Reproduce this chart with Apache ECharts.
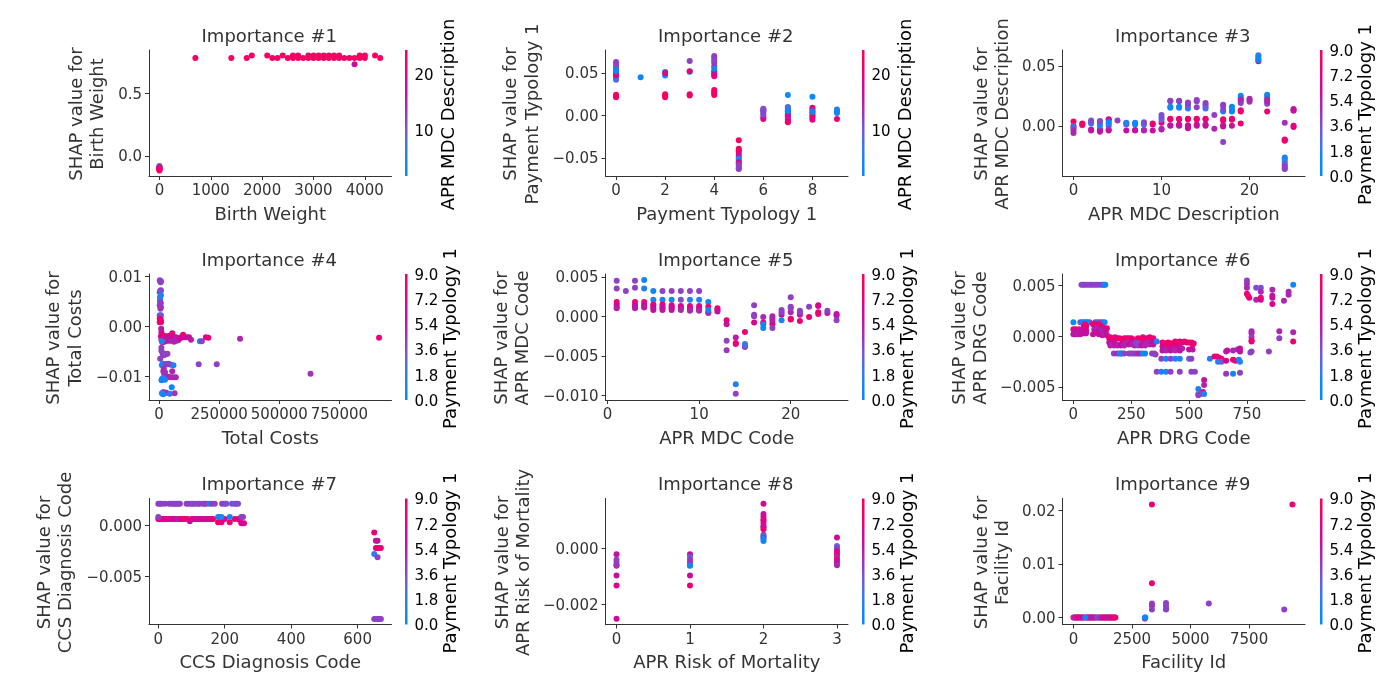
<!DOCTYPE html>
<html><head><meta charset="utf-8">
<script src="https://cdn.jsdelivr.net/npm/echarts@6/dist/echarts.min.js"></script>
<style>html,body{margin:0;padding:0;background:#fff}#c{width:1400px;height:700px}</style></head>
<body><div id="c"></div>
<script>
// Each point: [feature value, SHAP value, colour feature value]
const birthWeight = [[0,-.08,9],[0,-.085,12],[0,-.09,14],[0,-.095,20],[0,-.1,17],[0,-.105,23],[0,-.11,24],[0,-.115,23],
[700,.78,23],[1400,.78,23],[1700,.78,23],[1800,.8,23],[2100,.8,23],[2200,.78,23],[2300,.78,23],[2400,.8,23],[2500,.78,23],[2600,.78,23],[2600,.8,23],[2700,.78,23],[2700,.8,23],[2800,.78,23],[2900,.78,23],[2900,.8,23],[3000,.78,23],[3000,.8,23],[3100,.78,23],[3100,.8,23],[3200,.78,23],[3200,.8,23],[3300,.78,23],[3300,.8,23],[3400,.78,23],[3400,.8,23],[3500,.78,23],[3500,.8,23],[3600,.78,23],[3700,.78,23],[3800,.78,23],[3800,.73,17],[3900,.8,23],[3900,.78,23],[4000,.8,23],[4000,.78,23],[4200,.8,23],[4300,.78,23]];
const paymentTypology = [[0,.0215,23],[0,.023,23],[0,.0245,23],[0,.042,8],[0,.044,6],[0,.047,18],[0,.05,20],[0,.048,21],[0,.054,12],[0,.057,12],[0,.06,11],[0,.063,12],[0,.052,3],[0,.0535,3],
[1,.045,3],[2,.0215,23],[2,.023,23],[2,.025,23],[2,.047,3],[2,.051,3],[2,.05,21],[3,.0235,23],[3,.025,23],[3,.0515,3],[3,.052,21],[3,.064,12],
[4,.024,23],[4,.026,23],[4,.028,23],[4,.03,23],[4,.046,21],[4,.048,21],[4,.05,21],[4,.052,17],[4,.058,12],[4,.062,13],[4,.065,11],[4,.068,11],[4,.07,12],[4,.055,3],
[5,-.029,23],[5,-.039,23],[5,-.041,23],[5,-.043,23],[5,-.046,19],[5,-.049,16],[5,-.051,4],[5,-.053,4],[5,-.056,5],[5,-.055,18],[5,-.058,12],[5,-.06,12],[5,-.062,11],[5,-.063,12],
[6,-.004,21],[6,-.002,19],[6,.001,11],[6,.003,11],[6,.005,11],[6,.006,11],[6,.007,11],[6,.008,11],
[7,.024,3],[7,-.008,23],[7,-.007,23],[7,-.005,22],[7,-.003,19],[7,-.001,20],[7,0,14],[7,.002,17],[7,.004,21],[7,.007,7],[7,.009,5],[7,.01,8],[7,.006,4],[7,.005,3],
[8,.022,3],[8,-.005,21],[8,-.002,19],[8,0,20],[8,.002,23],[8,.007,20],[8,.009,22],[8,.005,4],[8,.004,3],
[9,-.004,22],[9,.007,5],[9,.005,4],[9,.003,3]];
const aprMdcDescription = [[0,.0035,8.5],[0,0,4],[0,-.001,2.5],[0,-.002,3],[0,-.004,5],[0,-.006,5],[1,.0005,3],[1,.001,8],[1,.002,8.5],
[2,-.004,5.5],[2,-.003,6],[2,.002,1],[2,.003,3],[2,.0045,3.5],[3,-.005,5],[3,-.004,6],[3,-.003,6],[3,0,1],[3,.002,1],[3,.0035,4],[3,.004,3.5],
[4,-.004,6],[4,-.003,6],[4,0,4],[4,.005,6],[4,.0055,7],[4,.002,1],[4,.003,.5],[5,.0045,4],[6,-.004,6],[6,.001,3],[6,.002,3],[6,.0025,1.5],
[7,-.004,6],[7,-.0035,6],[7,.001,.5],[7,.002,1],[7,.0025,.5],[8,-.004,6],[8,-.0035,5],[8,.001,3],[8,.002,1.5],[8,.003,3.5],[9,-.004,6],[9,.001,7],[9,.002,8],
[10,-.003,6],[10,-.0025,5],[10,.0025,8],[10,.005,3],[10,.007,3],[10,.009,3.5],
[11,0,6],[11,.0005,6],[11,.0055,8],[11,.006,8],[11,.015,1],[11,.016,.5],[11,.0205,4],[11,.021,4],
[12,0,6],[12,.0005,6],[12,.001,6],[12,.0055,8],[12,.006,8],[12,.015,1],[12,.016,.5],[12,.0205,4],[12,.021,4],
[13,-.002,6],[13,-.0005,6],[13,.0005,6],[13,.0055,8],[13,.006,8],[13,.0145,1],[13,.017,3],[13,.0185,4],[13,.0195,4],
[14,0,6],[14,.001,6],[14,.0055,8],[14,.006,8],[14,.0155,4],[14,.0205,4],[14,.0215,4],
[15,0,6],[15,.001,6],[15,.0055,8],[15,.006,8],[15,.0145,1],[15,.016,3],[15,.0175,3],[15,.019,4],[16,-.0025,5],[16,.009,4],
[17,-.0135,4],[17,-.0005,6],[17,.0005,6],[17,.0045,8],[17,.0055,8],[17,.012,1],[17,.0135,3.5],[17,.0165,4],[17,.0175,4],
[18,0,6],[18,.005,8],[18,.006,8],[18,.012,.5],[18,.0135,.5],[18,.016,.5],
[19,.002,8],[19,.012,8],[19,.013,8],[19,.023,1],[19,.025,.5],[19,.019,4],[19,.021,4],[19,.022,5],[20,.02,4],[20,.0215,5],[20,.0225,5],
[21,.054,8],[21,.059,2],[21,.0575,1],[21,.056,.5],[21,.055,.5],[22,.012,8],[22,.024,1],[22,.026,.5],[22,.0185,4],[22,.0205,5],[22,.022,5],
[24,.0025,4.5],[24,-.012,8],[24,-.0115,8],[24,-.0125,8],[24,-.0265,1],[24,-.028,1],[24,-.03,1.5],[24,-.032,3],[24,-.0335,4],[24,-.035,4],[24,-.036,4],
[25,-.001,8],[25,0,7.5],[25,.0125,5],[25,.014,5],[25,.0135,6]];
const totalCosts = [[3000,.0092,3.5],[7000,.0088,4.5],[5000,.009,3.5],[8000,.009,4],[8000,.0072,3.5],[3000,.0068,4],[5000,.0071,4],[6000,.007,3.5],[8000,.0062,1],[4000,.0058,1],[5000,.0055,1.5],[4000,.005,2.5],[7000,.0047,4.5],[6000,.0045,4],[3000,.0042,4],[5000,.004,4],[8000,.0038,4.5],[6000,.0035,4.5],[3000,.0022,2],[8000,.0022,3],[4000,.002,2],[5000,.0018,4],[6000,.0015,4],[3000,.0015,8],[7000,.0012,8],[4000,.0012,8],[7000,.001,7.5],[3000,.0008,8],[8000,.0008,8],[9000,-.0005,5.5],
[10000,-.0012,6],[8000,-.002,6],[10000,-.0027,5],[12000,-.0018,8],[15000,-.0022,7],[15000,-.0028,5],[14000,-.0032,5],[20000,-.0025,5],[20000,-.0019,8],[22000,-.0031,6],[25000,-.0027,6],[28000,-.0022,7],[30000,-.002,8],[33000,-.0029,6],[35000,-.0027,5],[35000,-.0021,6],[40000,-.0025,5],[42000,-.0029,6],[45000,-.0027,6],[45000,-.0019,7],[50000,-.0023,6],[52000,-.0029,5],[55000,-.0014,8],[58000,-.0027,5],[60000,-.0021,7],[62000,-.0031,5],[65000,-.0027,5],[70000,-.0022,6],[72000,-.0029,5],[75000,-.0025,5],[80000,-.0028,5],[84000,-.0024,6],[88000,-.0024,6],[92000,-.0022,7],[100000,-.0017,8],[105000,-.0022,7],[115000,-.0022,6],[125000,-.0022,6.5],[133000,-.0027,5.5],[170000,-.003,1],[178000,-.003,4],[195000,-.0022,7],[205000,-.0023,8],[337000,-.0025,5],[915000,-.0023,8],
[12000,-.003,1],[10000,-.0043,4],[10000,-.0049,4],[15000,-.0055,4],[20000,-.0058,4],[25000,-.0055,4],[30000,-.0056,4],[35000,-.0055,4],[5000,-.0065,4],[15000,-.0075,1],[20000,-.0078,1],[12000,-.0078,1],[18000,-.0076,.5],[22000,-.0076,1],[28000,-.0076,4],[35000,-.0076,4.5],[40000,-.0075,4],[50000,-.0077,4],[60000,-.0078,1],[165000,-.0076,4],[240000,-.0076,4],[630000,-.0095,4.5],[20000,-.0085,4.5],[18000,-.009,5],[22000,-.0095,5.5],[25000,-.0092,4.5],[55000,-.009,5],[20000,-.0103,4],[30000,-.0102,5],[36000,-.0102,5],[40000,-.0101,5],[50000,-.0102,5],[60000,-.0102,5],[70000,-.0102,5],[10000,-.0108,1],[15000,-.0107,.5],[13000,-.0105,.5],[18000,-.0104,1],[25000,-.0107,1],[53000,-.0122,.5],[20000,-.0132,4.5],[17000,-.0132,4],[30000,-.0133,5],[15000,-.0135,1],[12000,-.0134,1],[18000,-.0136,.5],[45000,-.0135,1],[65000,-.0134,4.5]];
const aprMdcCode = [[1,.0045,4],[1,.0035,4],[1,.0018,8],[1,.0015,7.5],[1,.0012,6],[1,.001,5.5],[2,.0032,4],[3,.0045,4],[3,.0036,4],[3,.0018,8],[3,.0014,7],[3,.0012,6],[3,.001,5.5],[4,.0046,.5],[4,.0035,1],[4,.0018,8],[4,.0015,7],[4,.0012,6],[4,.0011,5.5],
[5,.0032,.5],[5,.0021,1],[5,.0015,8],[5,.0013,7],[5,.001,6],[5,.0008,6],[6,.0032,4],[6,.0021,1],[6,.0015,8],[6,.0012,7],[6,.001,6],[6,.0008,6],[7,.0032,4],[7,.0021,.5],[7,.0014,8],[7,.0012,7],[7,.001,6],[7,.0008,6],[8,.0032,4],[8,.0021,3.5],[8,.0013,8],[8,.0012,7],[8,.001,6],[8,.0008,5],[9,.0032,4],[9,.0021,1],[9,.0013,8],[9,.001,7],[9,.0008,6],[9,.0007,5],[10,.0032,4],[10,.0021,1],[10,.0013,8],[10,.001,7],[10,.0008,6],[10,.0007,5],
[11,.0018,.5],[11,.0012,8],[11,.0005,6],[11,.0004,5],[11,.0008,.5],[12,.001,8],[12,.0008,7.5],[12,.0006,6],[13,-.0005,8],[13,-.001,6],[13,-.0031,4],[13,-.0043,4.5],[14,-.0027,5.5],[14,-.0034,8],[14,-.0035,8],[14,-.0086,1],[14,-.0098,4],[15,-.002,8],[15,-.0039,4],[15,-.0038,3.5],[15,-.0035,2],
[16,.0014,4],[16,.0002,4],[16,0,4],[16,-.0008,7],[17,-.0008,8],[17,-.001,1],[17,-.0015,.5],[17,-.0001,5],[18,-.001,8],[18,-.0015,4],[18,-.0006,6],[18,-.0003,5],[18,0,5],[19,.0002,6],[19,.0005,4],[19,.0008,4],[19,-.0005,1],[20,-.0003,8],[20,-.0004,8],[20,.0005,5],[20,.001,4],[20,.0012,4],[20,.0024,4],[21,-.0006,8],[21,.0002,6],[21,.0005,4],[21,.0007,4],[22,-.0001,8],[22,.0012,4],[23,.0013,6],[23,.0014,7],[23,.0005,8],[23,.0003,8],[24,.0004,6],[24,.0007,4],[25,.0003,6],[25,.0001,6],[25,-.0005,4]];
const aprDrgCode = [[35,.0051,4],[42,.0051,3.5],[50,.0051,4],[60,.0051,4],[70,.0051,4],[78,.0051,4],[88,.0051,4],[98,.0051,4],[108,.0051,4],[120,.0051,4],[128,.0051,4],[133,.0051,.5],[138,.0051,.5],
[30,.0014,3.5],[70,.0014,4],[0,.0014,.5],[40,.0014,.5],[45,.0014,.5],[55,.0014,1],[60,.0014,.5],[95,.0014,4],[105,.0014,1.5],[115,.0014,4],[125,.0014,4],[135,.0014,1],
[0,.0007,8],[10,.0007,8],[25,.0007,7],[45,.001,8],[50,.0012,8],[55,.001,8],[85,.0012,8],[95,.0012,8],[105,.0012,8],[115,.0011,8],[125,.0009,7],[135,.0008,8],[145,.0008,8],[90,.0007,5],[100,.0008,5],[110,.0006,5],
[0,.0002,6],[5,.0005,6],[5,.0002,5],[10,.0002,6],[15,.0004,6],[20,.0002,5],[25,.0004,5],[30,.0002,6],[35,.0005,6],[40,.0003,6],[45,.0005,6],[50,.0003,6],[55,.0006,7],[55,.0003,6],[85,.0002,6],[95,.0004,6],[105,.0004,6],[110,.0002,6],[115,.0003,6],[125,.0001,6],[130,.0005,5],[135,.0002,5],[140,.0005,6],[145,.0001,6],
[155,-.0002,8],[160,-.0001,8],[170,-.0003,8],[180,-.0001,8],[190,-.0002,8],[200,-.0002,8],[210,-.0003,8],[220,-.0002,8],[230,-.0002,8],[240,-.0002,8],[250,-.0002,8],[260,-.0003,8],[270,-.0003,8],[280,-.0002,8],[290,-.0003,8],[300,-.0001,8],[305,-.0002,8],[315,-.0003,8],[320,-.0002,8],[330,-.0001,8],[335,-.0003,8],[345,-.0002,8],
[155,-.0006,6],[160,-.0009,6],[165,-.0008,5],[175,-.0009,5],[180,-.0007,6],[190,-.0009,6],[195,-.0008,5],[205,-.0009,6],[210,-.0008,6],[220,-.0009,5],[225,-.0007,5],[235,-.0006,5],[240,-.0008,6],[250,-.0006,6],[255,-.0008,5],[265,-.0009,5],[270,-.0006,4],[280,-.0009,4],[285,-.0007,3.5],[295,-.0009,6],[300,-.0007,6],[310,-.0009,5],[315,-.0007,5],[325,-.0006,5],[330,-.0008,5],[340,-.0006,6],[345,-.0008,6],[360,-.0005,1],
[175,-.0017,4],[190,-.0017,5],[200,-.0017,1],[205,-.0017,1],[210,-.0017,1],[220,-.0017,4],[240,-.0017,4],[250,-.0017,4],[260,-.0017,4],[270,-.0017,4],[280,-.0017,5],[290,-.0017,5],[300,-.0017,1],[310,-.0017,.5],[340,-.0017,4],[350,-.0017,4],[355,-.0018,4],
[385,-.001,6],[390,-.0009,6],[400,-.0012,5],[410,-.0011,6],[420,-.001,6],[430,-.0012,6],[440,-.0012,5],[450,-.001,6],[460,-.0011,6],[470,-.0012,5],
[385,-.0006,8],[395,-.0007,8],[400,-.0007,8],[410,-.0006,8],[420,-.0007,8],[430,-.0007,8],[440,-.0005,8],[450,-.0006,8],[460,-.0005,8],[470,-.0006,8],[480,-.0005,8],[490,-.0006,8],[500,-.0006,8],[510,-.0006,8],[515,-.0008,8],[520,-.0007,8],
[385,-.0014,6],[400,-.0014,5],[420,-.0014,6],[440,-.0014,5],[460,-.0014,6],[500,-.0013,6],[515,-.0013,6],
[380,-.0022,4],[400,-.0022,1],[420,-.0022,4],[440,-.0022,1],[460,-.0022,1],[500,-.0022,3],[510,-.0022,4],
[360,-.0035,4],[380,-.0035,1],[400,-.0035,1],[420,-.0035,4],[460,-.0035,4],[510,-.0035,4],[525,-.0035,4],
[565,-.0043,6],[565,-.0048,5],[540,-.0052,1],[560,-.0055,8],[540,-.0057,1],[550,-.0057,4],[540,-.0058,4],[565,-.0057,1],
[590,-.0022,1],[610,-.002,8],[620,-.002,8],[630,-.0021,8],[640,-.0022,8],[625,-.0025,1],[640,-.0025,3],[660,-.0024,7],[660,-.0015,5],[665,-.0014,6],[690,-.0014,5],[710,-.0013,5],[720,-.0012,6],[720,-.0015,6],[690,-.0023,8],[700,-.0024,8],[715,-.0023,1],[720,-.0025,1],[660,-.0037,4.5],[690,-.0037,.5],[720,-.0036,4],
[750,.0055,4],[750,.0052,4.5],[750,.0048,5],[750,.0042,8],[755,.004,8],[760,.0038,8],[790,.0036,5],[790,.0048,3.5],[810,.0048,3.5],[810,.0044,5],[810,.0036,6],[810,.0038,8],[860,.0046,5],[860,.004,6],[860,.0038,6],[860,.0032,7],[910,.0035,5],[930,.0044,5],[930,.0041,5],[950,.0051,.5],
[770,.0005,5],[770,.0003,5],[770,-.0001,4],[770,-.0004,8],[770,-.0005,8],[770,-.0015,4],[765,-.0016,4],[845,-.0015,4],[890,.0005,5],[890,-.0002,4],[950,.0004,5],[950,-.0005,8]];
const ccsDiagnosisCode = [[0,.0021,4],[5,.0021,4],[10,.0021,4],[20,.0021,4],[32,.0021,4],[40,.0021,4],[45,.0021,4],[50,.0021,3.5],[55,.0021,4],[60,.0021,4],[65,.0021,4],[85,.0021,4],[92,.0021,4],[100,.0021,4],[105,.0021,3.5],[112,.0021,4],[120,.0021,3.5],[125,.0021,4],[135,.0021,4],[140,.0021,4],[145,.0021,4],[155,.0021,.5],[162,.0021,4],[170,.0021,4],[192,.0021,4],[200,.0021,4],[205,.0021,3.5],[222,.0021,4],[230,.0021,2],[235,.0021,4],[240,.0021,3.5],
[0,.0006,7],[5,.0006,8],[10,.0006,8],[15,.0006,7],[20,.0006,8],[25,.0006,7],[30,.0006,7],[35,.0006,8],[40,.0006,6],[45,.0006,6],[50,.0006,7],[55,.0006,6],[60,.0006,5],[65,.0006,6],[70,.0006,8],[75,.0006,7],[80,.0006,8],[88,.0006,8],[95,.0004,6],[100,.0006,7],[105,.0006,8],[110,.0006,7],[115,.0006,6],[120,.0006,6],[125,.0006,6],[130,.0006,7],[135,.0006,7],[140,.0006,6],[145,.0006,6],[150,.0006,7],[155,.0006,7],[160,.0006,6],[165,.0006,8],[180,.0003,8],[190,.0003,8],[200,.0006,7],[215,.0003,8],[230,.0006,8],[240,.0006,8],[245,.0005,7],[250,.0002,7],[258,.0002,7],
[0,.0008,4],[180,.0008,1],[185,.0008,.5],[190,.0008,1.5],[215,.0008,.5],[250,.0008,4],[255,.0008,4],
[650,-.0007,8],[655,-.0015,6],[660,-.0015,6],[650,-.0028,1.5],[660,-.0031,4],[655,-.0022,8],[660,-.0022,8],[665,-.0022,8],[670,-.0022,8],[650,-.0091,4],[655,-.0091,4],[660,-.0091,4],[665,-.0091,4],[670,-.0091,4]];
const aprRiskMortality = [[0,-.0002,6],[0,-.0004,4],[0,-.0005,4],[0,-.0006,4],[0,-.00062,4.5],[0,-.00097,6],[0,-.00133,7.5],[0,-.00253,6.5],
[1,-.0002,6],[1,-.0003,3],[1,-.0004,4],[1,-.0005,4.5],[1,-.0006,4],[1,-.00062,.5],[1,-.00097,6],[1,-.00133,8],
[2,.00162,6.5],[2,.00125,6],[2,.00115,6],[2,.00105,7],[2,.001,8],[2,.0009,7],[2,.0008,5],[2,.00078,6],[2,.0007,8],[2,.0005,4],[2,.00045,1],[2,.0004,4.5],[2,.00035,.5],[2,.00028,.5],
[3,.0004,6.5],[3,.0001,3],[3,0,4],[3,-.0001,7],[3,-.0002,8],[3,-.0003,5],[3,-.0004,8],[3,-.0005,6],[3,-.0006,5]];
const facilityId = [[0,0,8],[30,0,4],[60,0,7],[100,0,.5],[130,0,6],[160,0,5],[200,0,8],[240,0,6],[280,0,8],[320,0,7],[360,0,5],[400,0,8],[440,0,7],[540,0,6],[580,0,8],[620,0,5],[660,0,7],[700,0,6],[740,0,5],[780,0,7],[820,0,6],[860,0,5],[900,0,6],[950,0,7],[1000,0,4],[1040,0,4],[1080,0,4],[1120,0,4],[1160,0,4],[1200,0,6],[1240,0,5],[1280,0,6],[1320,0,7],[1360,0,8],[1400,0,6],[1440,0,8],[1480,0,7],[1520,0,5],[1560,0,8],[1600,0,6],[1640,0,8],[1680,0,7],[1720,0,8],[1760,0,8],[1790,0,8],[500,0,.5],
[3050,-.0002,8],[3050,0,.5],[3070,0,.5],[3350,.0211,8],[9350,.0211,8],[3350,.0064,8],[3350,.0026,4],[3350,.0022,4.5],[3350,.0015,4],[3950,.0027,4],[3950,.0022,4],[3950,.0015,4],[3960,.0016,4],[5780,.0026,4],[9000,.0015,4]];

const titles = ['Importance #1','Importance #2','Importance #3','Importance #4','Importance #5','Importance #6','Importance #7','Importance #8','Importance #9'];
const features = ['Birth Weight','Payment Typology 1','APR MDC Description','Total Costs','APR MDC Code','APR DRG Code','CCS Diagnosis Code','APR Risk of Mortality','Facility Id'];
const colorFeatures = ['APR MDC Description','APR MDC Description','Payment Typology 1','Payment Typology 1','Payment Typology 1','Payment Typology 1','Payment Typology 1','Payment Typology 1','Payment Typology 1'];
const panelData = [birthWeight,paymentTypology,aprMdcDescription,totalCosts,aprMdcCode,aprDrgCode,ccsDiagnosisCode,aprRiskMortality,facilityId];
const xRanges = [[-203,4520],[-.43,9.45],[-1.25,26.3],[-41600,966700],[-.22,26.25],[-47,1001],[-28,702],[-.15,3.15],[-468,9886]];
const yRanges = [[-.159,.844],[-.0711,.077],[-.0419,.0633],[-.01473,.01047],[-.0106,.00535],[-.00628,.00615],[-.00964,.0026],[-.002735,.00181],[-.0013,.0222]];
const xTicks = [[0,1000,2000,3000,4000],[0,2,4,6,8],[0,10,20],[0,250000,500000,750000],[0,10,20],[0,250,500,750],[0,200,400,600],[0,1,2,3],[0,2500,5000,7500]];
const yTicks = [[0,.5],[-.05,0,.05],[0,.05],[-.01,0,.01],[-.01,-.005,0,.005],[-.005,0,.005],[-.005,0],[-.002,0],[0,.01,.02]];
const yDecimals = [1,2,2,2,3,3,3,3,2];
const colorRanges = [[1.85,24.3],[1.85,24.3],[0,9],[0,9],[0,9],[0,9],[0,9],[0,9],[0,9]];
const mdcTicks = [10,20];
const payTicks = [0,1.8,3.6,5.4,7.2,9];
const colorTicks = [mdcTicks,mdcTicks,payTicks,payTicks,payTicks,payTicks,payTicks,payTicks,payTicks];
const yNameGaps = [39.5,61.5,48,62,71,70,71.5,70,48];
const barNameGaps = [33,33,30.5,31,31,30.5,31,31,30.5];

const colLeft = [149,605.5,1062.5], plotW = 242.5, colBar = [405,862,1320];
const rowTop = [50,274,498.5], plotH = 126;
const titleTop = [23,247,471];
const stops = [[0,'#008bfb'],[.2,'#2a7ff3'],[.35,'#6d5cdc'],[.5,'#a033b8'],[.65,'#c4109f'],[.8,'#e50084'],[1,'#ff0051']];
const font = '"DejaVu Sans"', ink = '#333333';
const fmtMinus = s => s.replace('-','\u2212');

const opt = {animation:false,backgroundColor:'#fff',textStyle:{fontFamily:font},title:[],grid:[],xAxis:[],yAxis:[],series:[],visualMap:[]};
panelData.forEach((d,i)=>{
  const L=colLeft[i%3], T=rowTop[Math.floor(i/3)];
  const gi=opt.grid.length;
  opt.title.push({text:titles[i],left:L+plotW/2-6,top:titleTop[Math.floor(i/3)],textAlign:'center',textStyle:{fontFamily:font,fontWeight:'normal',fontSize:18,color:ink}});
  opt.grid.push({left:L,top:T,width:plotW,height:plotH,containLabel:false});
  opt.xAxis.push({type:'value',gridIndex:gi,min:xRanges[i][0],max:xRanges[i][1],name:features[i],nameLocation:'middle',nameGap:30,nameTextStyle:{fontFamily:font,fontSize:18,color:ink},
    splitLine:{show:false},axisLine:{onZero:false,lineStyle:{color:ink,width:1}},axisTick:{customValues:xTicks[i],length:4,lineStyle:{color:ink}},
    axisLabel:{customValues:xTicks[i],fontFamily:font,fontSize:15,color:ink,margin:8,formatter:v=>String(v)}});
  opt.yAxis.push({type:'value',gridIndex:gi,min:yRanges[i][0],max:yRanges[i][1],name:'SHAP value for\n'+features[i],nameLocation:'middle',nameRotate:90,nameGap:yNameGaps[i],nameTextStyle:{fontFamily:font,fontSize:18,color:ink,lineHeight:21.5,padding:[0,2,0,0]},
    splitLine:{show:false},axisLine:{onZero:false,lineStyle:{color:ink,width:1}},axisTick:{customValues:yTicks[i],length:4,lineStyle:{color:ink}},
    axisLabel:{customValues:yTicks[i],margin:7,formatter:v=>'{t|'+fmtMinus(v.toFixed(yDecimals[i]))+'}',
      rich:{t:{fontFamily:font,fontSize:15,color:ink,padding:[3,0,0,0]}}}});
  opt.series.push({type:'scatter',xAxisIndex:gi,yAxisIndex:gi,symbolSize:6,data:d,clip:false,itemStyle:{opacity:1},silent:true});
  opt.visualMap.push({show:false,seriesIndex:i,dimension:2,min:colorRanges[i][0],max:colorRanges[i][1],inRange:{color:stops.map(s=>s[1])}});
});
panelData.forEach((d,i)=>{
  const T=rowTop[Math.floor(i/3)];
  const gi=opt.grid.length;
  opt.grid.push({left:colBar[i%3],top:T,width:2.5,height:plotH});
  opt.xAxis.push({type:'category',gridIndex:gi,data:[''],show:false});
  opt.yAxis.push({type:'value',gridIndex:gi,position:'right',min:colorRanges[i][0],max:colorRanges[i][1],name:colorFeatures[i],nameLocation:'middle',nameRotate:90,nameGap:barNameGaps[i],nameTextStyle:{fontFamily:font,fontSize:18,color:'#000',padding:[0,3,0,0]},
    splitLine:{show:false},axisLine:{show:false,onZero:false},axisTick:{customValues:colorTicks[i],length:4,lineStyle:{color:'#000'}},
    axisLabel:{customValues:colorTicks[i],margin:7,formatter:v=>'{t|'+(i<2?String(v):v.toFixed(1))+'}',
      rich:{t:{fontFamily:font,fontSize:15,color:'#000',padding:[4,0,0,0]}}}});
  opt.series.push({type:'bar',xAxisIndex:gi,yAxisIndex:gi,barWidth:'100%',data:[colorRanges[i][1]],silent:true,
    itemStyle:{color:{type:'linear',x:0,y:1,x2:0,y2:0,colorStops:stops.map(s=>({offset:s[0],color:s[1]}))}}});
});
echarts.init(document.getElementById('c'),null,{renderer:'canvas'}).setOption(opt);
</script></body></html>
